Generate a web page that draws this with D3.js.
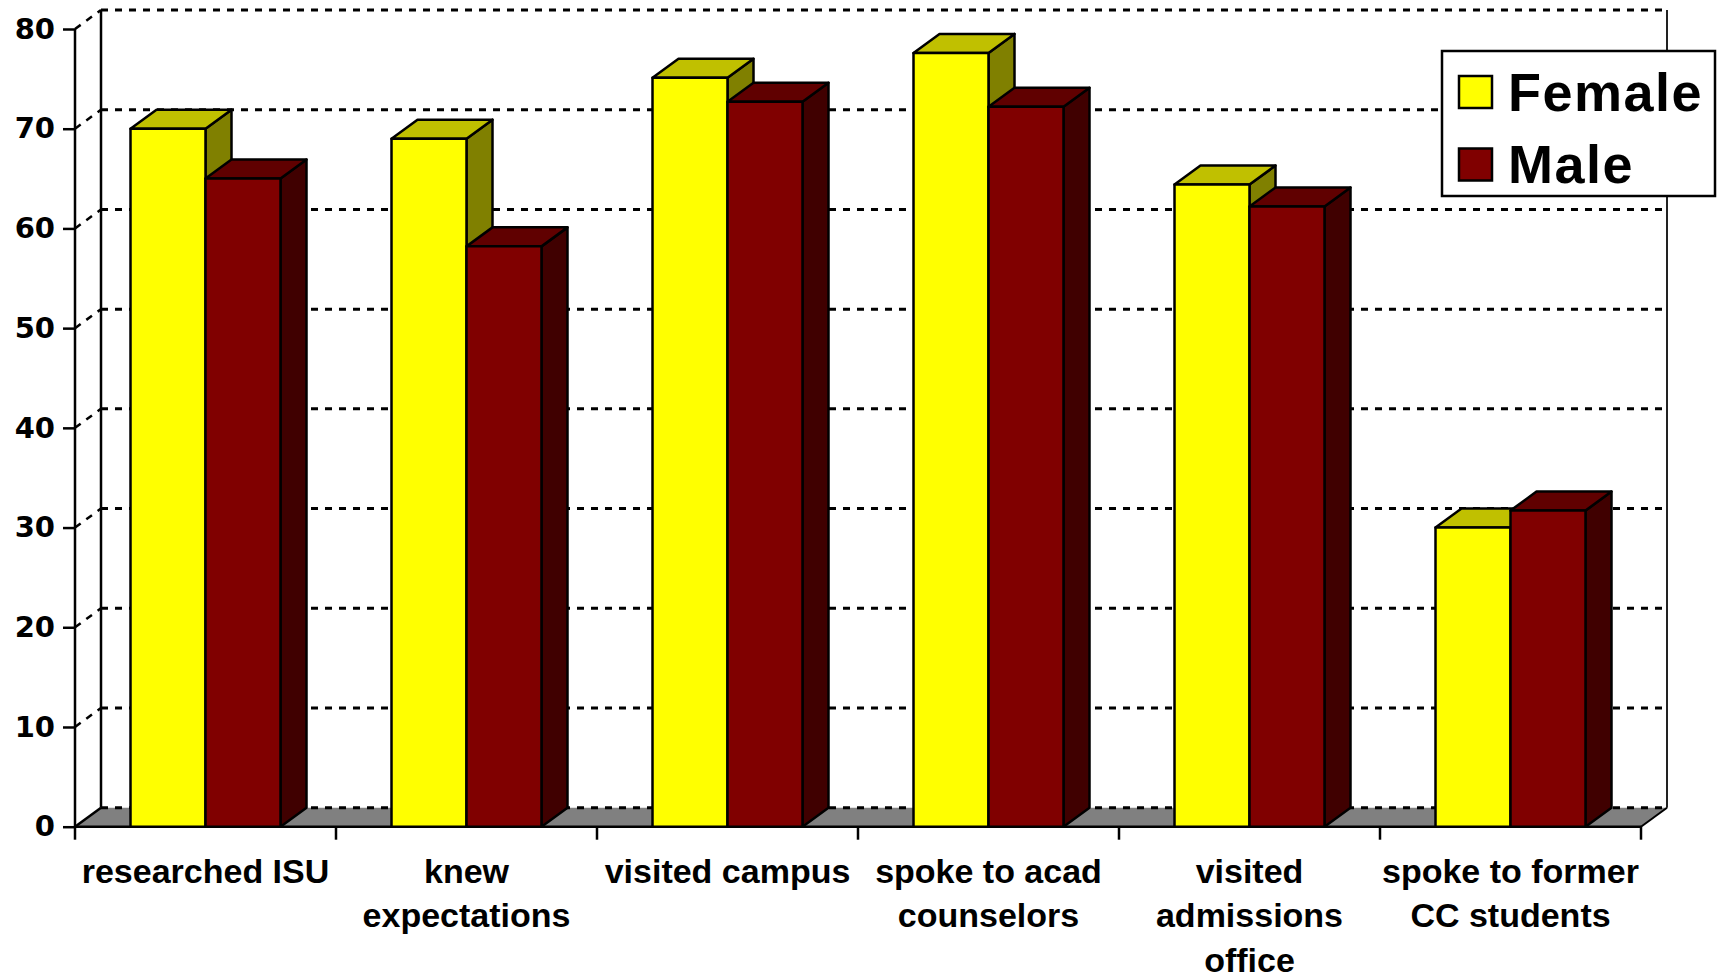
<!DOCTYPE html>
<html>
<head>
<meta charset="utf-8">
<script src="https://cdn.jsdelivr.net/npm/d3@7"></script>
<style>
  html, body { margin: 0; padding: 0; background: #fff; }
  svg { display: block; }
</style>
</head>
<body>
<svg id="chart" width="1724" height="977"></svg>
<script>
// ---- data ----
const categories = [
  ["researched ISU"],
  ["knew", "expectations"],
  ["visited campus"],
  ["spoke to acad", "counselors"],
  ["visited", "admissions", "office"],
  ["spoke to former", "CC students"]
];
const seriesNames = ["Female", "Male"];
const femaleValues = [70, 69, 75.1, 77.6, 64.4, 30];
const maleValues   = [65, 58.2, 72.7, 72.2, 62.2, 31.7];
const yTicks = [0, 10, 20, 30, 40, 50, 60, 70, 80];

const colors = {
  Female: { front: "#FFFF00", top: "#C0C000", side: "#808000" },
  Male:   { front: "#800000", top: "#600000", side: "#400000" }
};

(function () {
// ---- layout ----
const svg = d3.select("#chart");
const pLeft = 75, pRight = 1641, pBottom = 826.7, pTop = 29;
const dx = 26, dy = 19;

const catKeys = categories.map(c => c.join(" "));
const x0 = d3.scaleBand().domain(catKeys).range([pLeft, pRight]).padding(0);
const x1 = d3.scaleBand().domain(seriesNames).range([0, x0.bandwidth()]).paddingInner(0).paddingOuter(0.74);
const y = d3.scaleLinear().domain([0, 80]).range([pBottom, pTop]);

// floor
svg.append("polygon")
  .attr("points", [[pLeft, pBottom], [pRight, pBottom], [pRight + dx, pBottom - dy], [pLeft + dx, pBottom - dy]].map(p => p.join(",")).join(" "))
  .attr("fill", "#808080").attr("stroke", "none");

// gridlines on back wall + left wall diagonals
const grid = svg.append("g");
yTicks.forEach(v => {
  grid.append("line")
    .attr("x1", pLeft + dx).attr("x2", pRight + dx)
    .attr("y1", y(v) - dy).attr("y2", y(v) - dy)
    .attr("stroke", "#000").attr("stroke-width", 3)
    .attr("stroke-dasharray", "7,7");
  grid.append("line")
    .attr("x1", pLeft).attr("y1", y(v))
    .attr("x2", pLeft + dx).attr("y2", y(v) - dy)
    .attr("stroke", "#000").attr("stroke-width", 2.5)
    .attr("stroke-dasharray", v === 0 ? null : "7,7");
});

// back wall verticals
svg.append("line").attr("x1", pLeft + dx).attr("x2", pLeft + dx)
  .attr("y1", y(80) - dy).attr("y2", pBottom - dy)
  .attr("stroke", "#000").attr("stroke-width", 2.5);
svg.append("line").attr("x1", pRight + dx).attr("x2", pRight + dx)
  .attr("y1", y(80) - dy).attr("y2", pBottom - dy)
  .attr("stroke", "#222").attr("stroke-width", 2);
// floor right diagonal
svg.append("line").attr("x1", pRight).attr("y1", pBottom)
  .attr("x2", pRight + dx).attr("y2", pBottom - dy)
  .attr("stroke", "#000").attr("stroke-width", 2);

// y axis
const yAxis = svg.append("g")
  .attr("transform", `translate(${pLeft},0)`)
  .call(d3.axisLeft(y).tickValues(yTicks).tickSize(12).tickPadding(8).tickFormat(d3.format("d")));
yAxis.select(".domain").attr("stroke", "#000").attr("stroke-width", 2.5).attr("d", `M0,${pTop}V${pBottom}`);
yAxis.selectAll(".tick line").attr("stroke", "#000").attr("stroke-width", 2.5);
yAxis.selectAll(".tick text")
  .attr("fill", "#000")
  .style("font-family", "'DejaVu Sans', Verdana, sans-serif")
  .style("font-weight", "bold")
  .style("font-size", "29px");

// x axis baseline and ticks at band edges
svg.append("line").attr("x1", pLeft).attr("x2", pRight)
  .attr("y1", pBottom).attr("y2", pBottom)
  .attr("stroke", "#000").attr("stroke-width", 2.5);
const edges = catKeys.map(k => x0(k)).concat([x0(catKeys[catKeys.length - 1]) + x0.bandwidth()]);
svg.append("g").selectAll("line").data(edges).join("line")
  .attr("x1", d => d).attr("x2", d => d)
  .attr("y1", pBottom).attr("y2", pBottom + 13)
  .attr("stroke", "#000").attr("stroke-width", 2.5);

// bars
const barsG = svg.append("g");
categories.forEach((cat, i) => {
  const key = catKeys[i];
  const vals = { Female: femaleValues[i], Male: maleValues[i] };
  seriesNames.forEach(s => {
    const xl = x0(key) + x1(s);
    const xr = xl + x1.bandwidth();
    const yt = y(vals[s]);
    const yb = y(0);
    const g = barsG.append("g")
      .attr("stroke", "#000").attr("stroke-width", 2.5).attr("stroke-linejoin", "round");
    g.append("polygon")
      .attr("points", [[xr, yt], [xr + dx, yt - dy], [xr + dx, yb - dy], [xr, yb]].map(p => p.join(",")).join(" "))
      .attr("fill", colors[s].side);
    g.append("polygon")
      .attr("points", [[xl, yt], [xl + dx, yt - dy], [xr + dx, yt - dy], [xr, yt]].map(p => p.join(",")).join(" "))
      .attr("fill", colors[s].top);
    g.append("rect")
      .attr("x", xl).attr("y", yt)
      .attr("width", xr - xl).attr("height", yb - yt)
      .attr("fill", colors[s].front);
  });
});

// category labels
const labG = svg.append("g")
  .style("font-family", "'Liberation Sans', Arial, sans-serif")
  .style("font-weight", "bold")
  .style("font-size", "34px")
  .attr("text-anchor", "middle").attr("fill", "#000");
categories.forEach((cat, i) => {
  const cx = x0(catKeys[i]) + x0.bandwidth() / 2;
  const t = labG.append("text").attr("x", cx).attr("y", 882.7);
  cat.forEach((line, j) => {
    t.append("tspan").attr("x", cx).attr("y", 882.7 + j * 44.4).text(line);
  });
});

// legend
const lg = svg.append("g");
lg.append("rect").attr("x", 1442).attr("y", 51).attr("width", 273).attr("height", 145)
  .attr("fill", "#fff").attr("stroke", "#000").attr("stroke-width", 2.5);
seriesNames.forEach((s, i) => {
  lg.append("rect").attr("x", 1459).attr("y", 76 + i * 72.5).attr("width", 33).attr("height", 32)
    .attr("fill", colors[s].front).attr("stroke", "#000").attr("stroke-width", 2.5);
  lg.append("text").attr("x", 1508).attr("y", 110.7 + i * 72.6)
    .style("font-family", "'Liberation Sans', Arial, sans-serif")
    .style("font-weight", "bold").style("font-size", "54px")
    .style("letter-spacing", "1.5px")
    .attr("fill", "#000").text(s);
});
})();
</script>
</body>
</html>
